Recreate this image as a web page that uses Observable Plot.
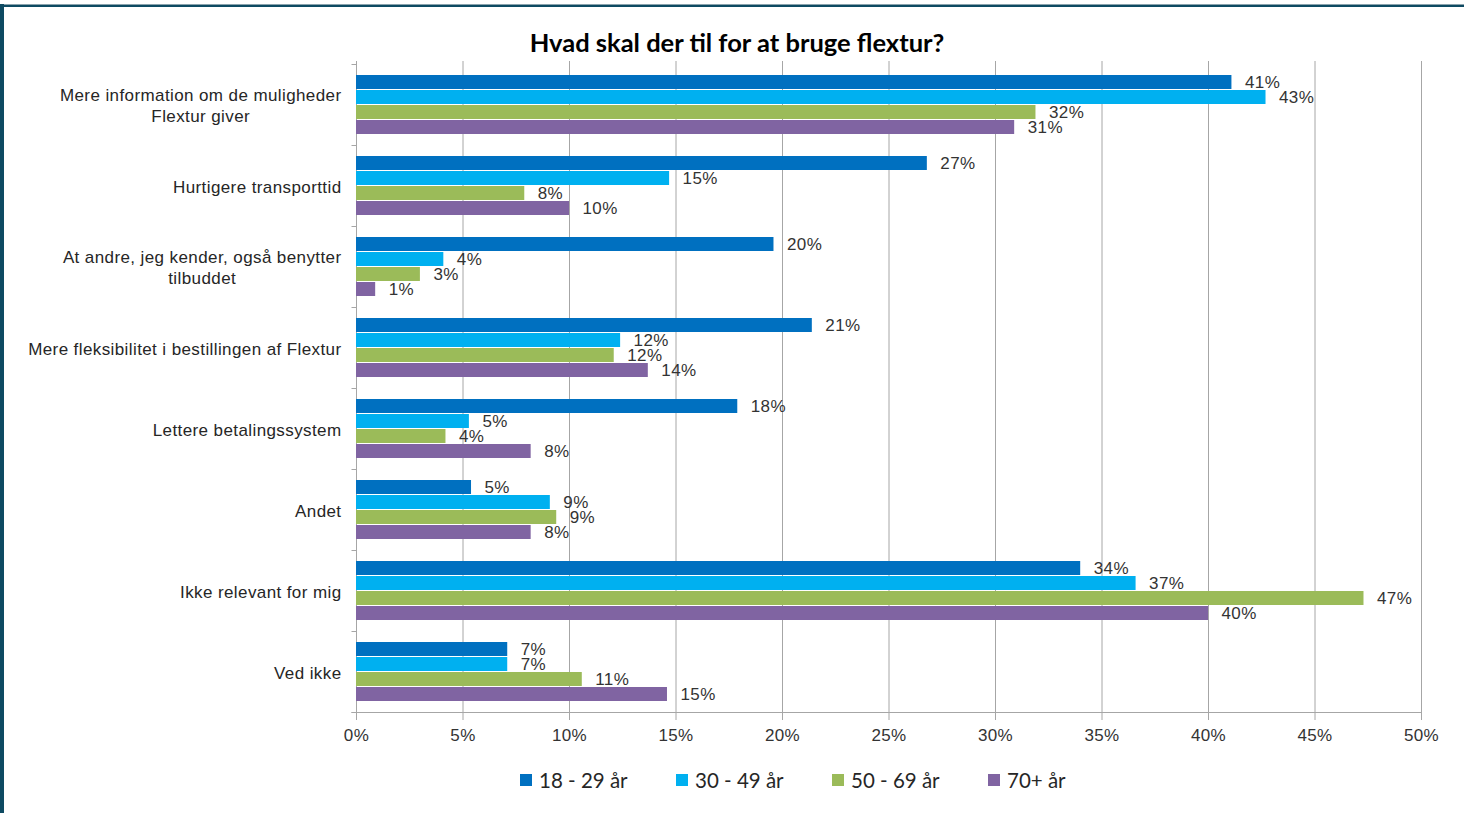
<!DOCTYPE html>
<html>
<head>
<meta charset="utf-8">
<script src="https://cdn.jsdelivr.net/npm/d3@7"></script>
<script src="https://cdn.jsdelivr.net/npm/@observablehq/plot@0.6"></script>
<style>
html,body{margin:0;padding:0;background:#fff;}
#wrap{position:relative;width:1464px;height:813px;overflow:hidden;background:#fff;}
#topline{position:absolute;left:0;top:4px;width:1464px;height:3px;background:#0E4A62;border-top:1px solid #8aa3ad;box-sizing:border-box;}
#leftline{position:absolute;left:0;top:4px;width:4px;height:809px;background:#0E4A62;}
#title{position:absolute;left:0;width:1474px;top:27px;text-align:center;font:bold 25.5px Lato, "Open Sans", sans-serif;color:#000;line-height:30px;}
#chart{position:absolute;left:0;top:0;}
#chart svg, #chart svg text, #chart svg g {font-family:"Liberation Sans", Arial, sans-serif !important;}
#chart svg text {letter-spacing:0.4px;}
#legend{position:absolute;left:520px;top:767px;display:flex;font:20.5px Lato, sans-serif;color:#262626;line-height:26px;}
.item{width:156px;display:flex;align-items:center;}
.sw{width:12px;height:12px;margin-right:7px;flex:none;}
</style>
</head>
<body>
<div id="wrap">
  <div id="topline"></div>
  <div id="leftline"></div>
  <div id="chart"></div>
  <div id="title">Hvad skal der til for at bruge flextur?</div>
  <div id="legend"></div>
</div>
<script>
const categories = [
  "Mere information om de muligheder\nFlextur giver",
  "Hurtigere transporttid",
  "At andre, jeg kender, også benytter\ntilbuddet",
  "Mere fleksibilitet i bestillingen af Flextur",
  "Lettere betalingssystem",
  "Andet",
  "Ikke relevant for mig",
  "Ved ikke"
];
const series = ["18 - 29 år", "30 - 49 år", "50 - 69 år", "70+ år"];
const colors = ["#0070C0", "#00B0F0", "#9BBB59", "#8064A2"];
const v18_29 = [41.1, 26.8, 19.6, 21.4, 17.9, 5.4, 34.0, 7.1];
const v30_49 = [42.7, 14.7, 4.1, 12.4, 5.3, 9.1, 36.6, 7.1];
const v50_69 = [31.9, 7.9, 3.0, 12.1, 4.2, 9.4, 47.3, 10.6];
const v70 = [30.9, 10.0, 0.9, 13.7, 8.2, 8.2, 40.0, 14.6];
const xTicks = [0, 5, 10, 15, 20, 25, 30, 35, 40, 45, 50];

const seriesValues = [v18_29, v30_49, v50_69, v70];
const rows = series.map((s, i) => categories.map((c, j) => ({cat: c, series: s, value: seriesValues[i][j]})));

const FONT = "Liberation Sans, Arial, sans-serif";
const FS = 17;
const W = 1464, H = 760, mt = 61, mb = 45, ml = 356, mr = 43;
const padIn = 0.266, padOut = 0.133;
const step = (H - mt - mb) / (categories.length - padIn + 2 * padOut);
const bw = step * (1 - padIn);
const sub = bw / series.length;
const gridColor = "#A6A6A6";

function boundaryTicks(index, scales, values, dims) {
  const y = scales.y, x = scales.x;
  const g = d3.create("svg:g").attr("stroke", gridColor).attr("fill", "none");
  const x0 = Math.round(x(0)) + 0.5;
  const gap = (y.step() - y.bandwidth()) / 2;
  const ys = categories.map(c => y(c) - gap);
  ys.push(y(categories[categories.length - 1]) + y.bandwidth() + gap);
  for (const yy of ys) {
    const yr = Math.round(yy) + 0.5;
    g.append("line").attr("x1", x0 - 5).attr("x2", x0).attr("y1", yr).attr("y2", yr);
  }
  const yb = Math.round(ys[ys.length - 1]) + 0.5;
  g.append("line").attr("x1", x0 - 5).attr("x2", Math.round(x(50)) + 0.5).attr("y1", yb).attr("y2", yb);
  return g.node();
}

const plot = Plot.plot({
  width: W,
  height: H,
  marginTop: mt,
  marginBottom: mb,
  marginLeft: ml,
  marginRight: mr,
  style: {fontFamily: FONT, background: "transparent"},
  x: {domain: [0, 50], label: null},
  y: {domain: categories, paddingInner: padIn, paddingOuter: padOut, label: null},
  marks: [
    Plot.ruleX(xTicks, {stroke: gridColor}),
    ...rows.map((data, i) => Plot.barX(data, {
      x: "value", y: "cat", fill: colors[i],
      insetTop: i * sub, insetBottom: (series.length - 1 - i) * sub
    })),
    ...rows.map((data, i) => Plot.text(data, {
      x: "value", y: "cat", text: d => Math.round(d.value) + "%",
      dx: 13, dy: (i - (series.length - 1) / 2) * sub,
      textAnchor: "start", fontSize: FS, fontFamily: FONT, fill: "#333"
    })),
    Plot.axisX({ticks: xTicks, tickFormat: d => d + "%", tickSize: 5, tickPadding: 8, fontSize: FS, fontFamily: FONT, stroke: gridColor, fill: "#333"}),
    Plot.axisY({tickSize: 0, tickPadding: 15, fontSize: FS, fontFamily: FONT, lineHeight: 1.2, fill: "#262626"}),
    boundaryTicks
  ]
});
document.getElementById("chart").appendChild(plot);

// center multi-line category labels within their widest line (right-aligned block)
plot.querySelectorAll("g[aria-label='y-axis tick label'] text").forEach(t => {
  if (t.querySelectorAll("tspan").length > 1) {
    const w = t.getBBox().width;
    t.setAttribute("text-anchor", "middle");
    const tr = t.getAttribute("transform") || "";
    t.setAttribute("transform", tr + ` translate(${-w / 2},0)`);
  }
});

const legend = document.getElementById("legend");
series.forEach((s, i) => {
  const it = document.createElement("div");
  it.className = "item";
  const sw = document.createElement("span");
  sw.className = "sw";
  sw.style.background = colors[i];
  const lb = document.createElement("span");
  lb.textContent = s;
  it.appendChild(sw);
  it.appendChild(lb);
  legend.appendChild(it);
});
</script>
</body>
</html>
